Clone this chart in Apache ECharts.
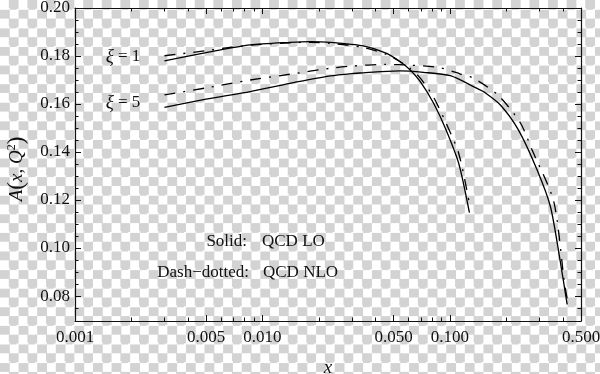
<!DOCTYPE html>
<html>
<head>
<meta charset="utf-8">
<script src="https://cdn.jsdelivr.net/npm/echarts@6/dist/echarts.min.js"></script>
<style>
html, body { margin: 0; padding: 0; }
body {
  width: 600px; height: 374px;
  background: repeating-conic-gradient(#d3d3d3 0% 25%, #ffffff 0% 50%) 0 0 / 18.6px 18.6px;
}
#chart { width: 600px; height: 374px; }
</style>
</head>
<body>
<div id="chart"></div>
<script>
// ---- data ----
const xi1LoX = [0.003, 0.005, 0.0086, 0.014, 0.018, 0.023, 0.0345, 0.046, 0.0543, 0.0614, 0.0695, 0.0818, 0.0945, 0.1113, 0.127];
const xi1LoY = [0.1780, 0.1814, 0.1846, 0.1857, 0.1860, 0.1857, 0.1842, 0.1811, 0.1776, 0.1742, 0.1693, 0.1603, 0.1499, 0.1353, 0.1147];

const xi1NloX = [0.003, 0.005, 0.0067, 0.0086, 0.014, 0.018, 0.023, 0.0345, 0.046, 0.0543, 0.0614, 0.0695, 0.0818, 0.0945, 0.1113, 0.127];
const xi1NloY = [0.1801, 0.1822, 0.1836, 0.1845, 0.1855, 0.1857, 0.1853, 0.1836, 0.1806, 0.1776, 0.1748, 0.1708, 0.1628, 0.1527, 0.1395, 0.1185];

const xi5LoX = [0.003, 0.005, 0.0086, 0.014, 0.023, 0.03, 0.0345, 0.043, 0.0543, 0.0721, 0.1005, 0.1396, 0.1514, 0.1858, 0.2318, 0.2917, 0.3436, 0.3852, 0.4218];
const xi5LoY = [0.1586, 0.1620, 0.1652, 0.1686, 0.1717, 0.1727, 0.1730, 0.1735, 0.1738, 0.1732, 0.1718, 0.1665, 0.1651, 0.1596, 0.1492, 0.1325, 0.1172, 0.0957, 0.0765];

const xi5NloX = [0.003, 0.005, 0.0086, 0.014, 0.023, 0.03, 0.045, 0.0614, 0.0889, 0.1136, 0.1338, 0.1807, 0.2376, 0.2744, 0.3579, 0.4081, 0.4218];
const xi5NloY = [0.1638, 0.1667, 0.1700, 0.1724, 0.1749, 0.1758, 0.1765, 0.1762, 0.1751, 0.1725, 0.1707, 0.1637, 0.1521, 0.1408, 0.1193, 0.0853, 0.0790];

const xMajorTicks = [0.001, 0.005, 0.01, 0.05, 0.1, 0.5];
const xMinorTicks = [0.002, 0.003, 0.004, 0.006, 0.007, 0.008, 0.009,
                     0.02, 0.03, 0.04, 0.06, 0.07, 0.08, 0.09,
                     0.2, 0.3, 0.4];
const yMajorTicks = [0.08, 0.10, 0.12, 0.14, 0.16, 0.18, 0.20];
const yMinorTicks = [0.075, 0.085, 0.09, 0.095, 0.105, 0.11, 0.115, 0.125, 0.13, 0.135,
                     0.145, 0.15, 0.155, 0.165, 0.17, 0.175, 0.185, 0.19, 0.195];

const xMin = 0.001, xMax = 0.5, yMin = 0.0696, yMax = 0.20;

// ---- chart ----
const FONT = '"Liberation Serif", "DejaVu Serif", serif';
const INK = '#111';
const chart = echarts.init(document.getElementById('chart'), null, { renderer: 'canvas' });

function pairs(xs, ys) { return xs.map((x, i) => [x, ys[i]]); }

function xAx(pos, ticks, len, showLine, labels) {
  return {
    type: 'log', logBase: 10, min: xMin, max: xMax, position: pos,
    axisLine: { show: showLine, lineStyle: { color: INK, width: 1.2 } },
    axisTick: { show: true, inside: true, length: len, customValues: ticks, lineStyle: { color: INK, width: 1 } },
    minorTick: { show: false },
    axisLabel: labels ? {
      show: true, customValues: xMajorTicks, margin: 8,
      fontFamily: FONT, fontSize: 17, color: INK,
      formatter: v => Number(v).toFixed(3)
    } : { show: false },
    splitLine: { show: false },
    name: labels ? 'x' : '', nameLocation: 'middle', nameGap: 37,
    nameTextStyle: { fontFamily: FONT, fontSize: 19, fontStyle: 'italic', color: INK }
  };
}
function yAx(pos, ticks, len, showLine, labels) {
  return {
    type: 'value', min: yMin, max: yMax, position: pos,
    axisLine: { show: showLine, lineStyle: { color: INK, width: 1.2 } },
    axisTick: { show: true, inside: true, length: len, customValues: ticks, lineStyle: { color: INK, width: 1 } },
    axisLabel: labels ? {
      show: true, customValues: yMajorTicks, margin: 5,
      fontFamily: FONT, fontSize: 17, color: INK,
      formatter: v => Number(v).toFixed(2)
    } : { show: false },
    splitLine: { show: false }
  };
}

function line(name, xs, ys, dashed) {
  return {
    name, type: 'line', xAxisIndex: 0, yAxisIndex: 0,
    data: pairs(xs, ys), showSymbol: false, smooth: 0.25,
    lineStyle: { color: '#000', width: 1.3, type: dashed ? [11, 8, 2, 8] : 'solid' },
    emphasis: { disabled: true }, silent: true
  };
}

const option = {
  backgroundColor: 'transparent',
  animation: false,
  grid: { left: 75, right: 19, top: 8, bottom: 53, containLabel: false, outerBoundsMode: 'none' },
  xAxis: [
    xAx('bottom', xMajorTicks, 6, true, true),
    xAx('bottom', xMinorTicks, 3.5, false, false),
    xAx('top', xMajorTicks, 6, true, false),
    xAx('top', xMinorTicks, 3.5, false, false)
  ],
  yAxis: [
    yAx('left', yMajorTicks, 6, true, true),
    yAx('left', yMinorTicks, 3.5, false, false),
    yAx('right', yMajorTicks, 6, true, false),
    yAx('right', yMinorTicks, 3.5, false, false)
  ],
  series: [
    line('ξ=1 LO', xi1LoX, xi1LoY, false),
    line('ξ=1 NLO', xi1NloX, xi1NloY, true),
    line('ξ=5 LO', xi5LoX, xi5LoY, false),
    line('ξ=5 NLO', xi5NloX, xi5NloY, true)
  ],
  graphic: [
    { type: 'text', x: 17, y: 169, rotation: Math.PI / 2,
      style: { text: '{i|A}{p|(}{i|x}, {i|Q}{s|2}{p|)}', fill: INK, font: '19px ' + FONT, align: 'center', verticalAlign: 'middle',
        rich: {
          i: { fontStyle: 'italic', fontFamily: FONT, fontSize: 19, fill: INK },
          p: { fontFamily: FONT, fontSize: 23, fill: INK },
          s: { fontFamily: FONT, fontSize: 12, fill: INK, verticalAlign: 'top', padding: [0, 0, 8, 0] }
        } } },
    { type: 'text', x: 123, y: 57, style: { text: '{i|ξ} = 1', fill: INK, font: '17px ' + FONT, align: 'center', verticalAlign: 'middle',
      rich: { i: { fontStyle: 'italic', fontFamily: FONT, fontSize: 19, fill: INK } } } },
    { type: 'text', x: 123, y: 103, style: { text: '{i|ξ} = 5', fill: INK, font: '17px ' + FONT, align: 'center', verticalAlign: 'middle',
      rich: { i: { fontStyle: 'italic', fontFamily: FONT, fontSize: 19, fill: INK } } } },
    { type: 'text', x: 247, y: 242, style: { text: 'Solid:', fill: INK, font: '17px ' + FONT, align: 'right', verticalAlign: 'middle' } },
    { type: 'text', x: 262, y: 242, style: { text: 'QCD LO', fill: INK, font: '17px ' + FONT, align: 'left', verticalAlign: 'middle' } },
    { type: 'text', x: 249, y: 273, style: { text: 'Dash\u2212dotted:', fill: INK, font: '17px ' + FONT, align: 'right', verticalAlign: 'middle' } },
    { type: 'text', x: 263, y: 273, style: { text: 'QCD NLO', fill: INK, font: '17px ' + FONT, align: 'left', verticalAlign: 'middle' } }
  ]
};
chart.setOption(option);
</script>
</body>
</html>
